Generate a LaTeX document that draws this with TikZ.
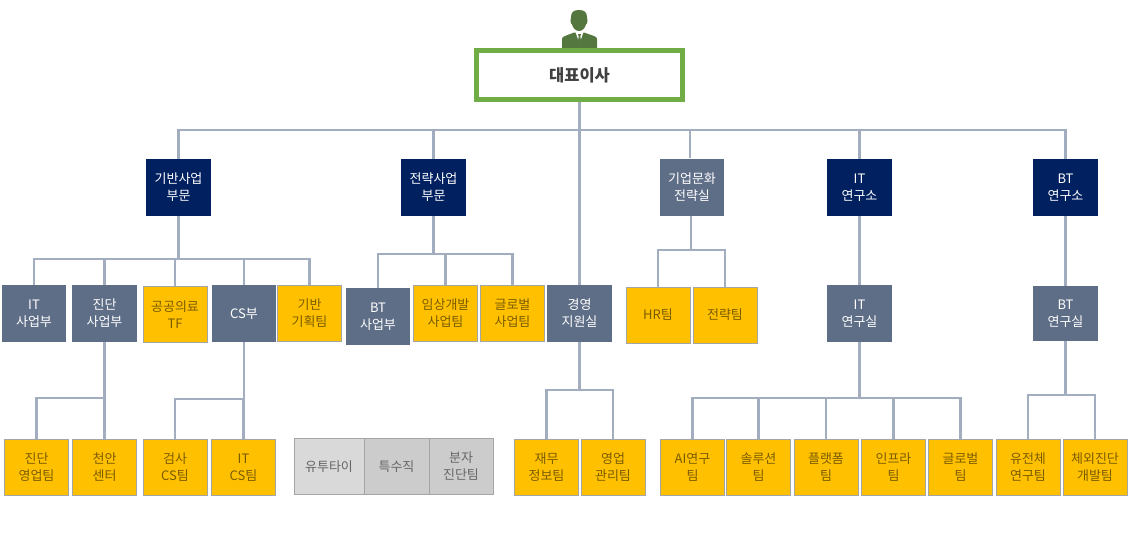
\documentclass[tikz,border=0pt]{standalone}
\usepackage{fontspec}
\setmainfont{Noto Sans CJK KR}
\usetikzlibrary{calc,positioning}
\definecolor{navyc}{HTML}{002060}
\definecolor{slatec}{HTML}{5F6E87}
\definecolor{goldc}{HTML}{FFC000}
\definecolor{edgec}{HTML}{A5A5A5}
\definecolor{linkc}{HTML}{A3ADC0}
\definecolor{ceoc}{HTML}{70AD47}
\definecolor{iconc}{HTML}{54763F}
\definecolor{goldtext}{HTML}{7A5C00}
\tikzset{
 unit/.style={inner sep=0pt,minimum width=65pt,minimum height=57pt,align=center,font=\fontsize{13}{17}\selectfont},
 navybox/.style={unit,fill=navyc,text=white},
 slatebox/.style={unit,fill=slatec,text=white},
 teambox/.style={unit,minimum width=64pt,minimum height=56pt,fill=goldc,draw=edgec,line width=1pt,text=goldtext},
 labbox/.style={unit,minimum height=56pt,draw=edgec,line width=1pt,text=black!60},
 link/.style={draw=linkc,line width=2.2pt}
}
\begin{document}
\begin{tikzpicture}[x=1pt,y=-1pt]
\useasboundingbox(0,0)rectangle(1128,539);
% top
\fill[iconc](562,48)--(562,39)..controls(562,37.5)and(563,37)..(565,36)--(574,32.5)--(584,32.5)--(594,36)..controls(596,37)and(597,37.5)..(597,39)--(597,48)--cycle;
\fill[iconc](579,10)..controls(584,10)and(587,12)..(587,17)--(587.5,21)..controls(587.5,23)and(586.5,24)..(586,24.5)..controls(585,28)and(582.5,31)..(579,31)..controls(575.5,31)and(573,28)..(572,24.5)..controls(571.5,24)and(570.5,23)..(570.5,21)--(571,17)..controls(571,12)and(574,10)..(579,10)--cycle;
\fill[white](575.5,32)--(583.5,32)--(579.5,43.5)--cycle;
\fill[iconc](578,34)--(581,34)--(580.3,36.5)--(581,41)--(579.5,43.5)--(578,41)--(578.7,36.5)--cycle;
\node[draw=ceoc,fill=white,line width=4.5pt,inner sep=0pt,minimum width=206pt,minimum height=49pt,font=\fontsize{16.5}{17}\selectfont\bfseries,text=black!75](ceo)at(579.5,75){대표이사};
% divisions
\node[navybox](base)at(178.5,187.5){기반사업\\부문};
\node[navybox](strat)at(433.5,187.5){전략사업\\부문};
\node[slatebox,minimum width=64pt](culture)at(692,187){기업문화\\전략실};
\node[navybox](itlab)at(859.5,187.5){IT\\연구소};
\node[navybox](btlab)at(1065.5,187.5){BT\\연구소};
% second row
\node[slatebox,minimum width=64pt](itbiz)at(34,313.5){IT\\사업부};
\node[slatebox](diag)at(104.5,313.5){진단\\사업부};
\node[teambox](public)at(175,314.5){공공의료\\TF};
\node[slatebox,minimum width=64pt](cs)at(244,313.5){CS부};
\node[teambox](plan)at(309.5,313.5){기반\\기획팀};
\node[slatebox,minimum width=64pt](btbiz)at(378,316.5){BT\\사업부};
\node[teambox](clinic)at(445.5,313){임상개발\\사업팀};
\node[teambox](global)at(512.5,313){글로벌\\사업팀};
\node[slatebox](mgmt)at(579.5,313.5){경영\\지원실};
\node[teambox](hr)at(658,315){HR팀};
\node[teambox](stratteam)at(725,315){전략팀};
\node[slatebox](itroom)at(859.5,313.5){IT\\연구실};
\node[slatebox,minimum height=55pt](btroom)at(1065.5,313.5){BT\\연구실};
% third row
\node[teambox](sales)at(36.5,467.5){진단\\영업팀};
\node[teambox](center)at(104.5,467.5){천안\\센터};
\node[teambox](testcs)at(175,467.5){검사\\CS팀};
\node[teambox](itcs)at(243.5,467.5){IT\\CS팀};
\node[labbox,fill=black!15,minimum width=70pt](ubi)at(329,466.5){유투타이};
\node[labbox,fill=black!20](special)at(396.5,466.5){특수직};
\node[labbox,fill=black!20,minimum width=64pt](molecule)at(461,466.5){분자\\진단팀};
\node[teambox](finance)at(546.5,467.5){재무\\정보팀};
\node[teambox](salesmgmt)at(613,467.5){영업\\관리팀};
\node[teambox](ai)at(692.5,467.5){AI연구\\팀};
\node[teambox](solution)at(758.5,467.5){솔루션\\팀};
\node[teambox](platform)at(826,467.5){플랫폼\\팀};
\node[teambox](infra)at(893.5,467.5){인프라\\팀};
\node[teambox](globalteam)at(960.5,467.5){글로벌\\팀};
\node[teambox](gene)at(1028,467.5){유전체\\연구팀};
\node[teambox](ivd)at(1095,467.5){체외진단\\개발팀};
% connectors
\coordinate(topbus)at(ceo|-0,130);
\coordinate(basebus)at(base|-0,259);
\coordinate(stratbus)at(strat|-0,254);
\coordinate(culturebus)at($(culture|-0,250)+(-1,0)$);
\coordinate(diagbus)at(diag|-0,398);
\coordinate(csbus)at(cs|-0,399);
\coordinate(mgmtbus)at(mgmt|-0,390);
\coordinate(itbus)at(itroom|-0,398);
\coordinate(btbus)at(btroom|-0,395);
\draw[link](ceo.south)--(mgmt.north);
\draw[link](topbus)-|(base.north);
\draw[link](topbus)-|(strat.north);
\draw[link](topbus)-|([xshift=-2pt]culture.north);
\draw[link](topbus)-|(itlab.north);
\draw[link](topbus)-|(btlab.north);
\draw[link](base.south)--(basebus);
\draw[link](basebus)-|(itbiz.north);
\draw[link](basebus)-|(diag.north);
\draw[link](basebus)-|(public.north);
\draw[link](basebus)-|(cs.north);
\draw[link](basebus)-|(plan.north);
\draw[link](strat.south)--(stratbus);
\draw[link](stratbus)-|(btbiz.north);
\draw[link](stratbus)-|(clinic.north);
\draw[link](stratbus)-|(global.north);
\draw[link]([xshift=-1pt]culture.south)--(culturebus);
\draw[link](culturebus)-|(hr.north);
\draw[link](culturebus)-|(stratteam.north);
\draw[link](itlab.south)--(itroom.north);
\draw[link](btlab.south)--(btroom.north);
\draw[link](diag.south)--(diagbus);
\draw[link](diagbus)-|(sales.north);
\draw[link](diagbus)-|(center.north);
\draw[link](cs.south)--(csbus);
\draw[link](csbus)-|(testcs.north);
\draw[link](csbus)-|(itcs.north);
\draw[link](mgmt.south)--(mgmtbus);
\draw[link](mgmtbus)-|(finance.north);
\draw[link](mgmtbus)-|(salesmgmt.north);
\draw[link](itroom.south)--(itbus);
\draw[link](itbus)-|(ai.north);
\draw[link](itbus)-|(solution.north);
\draw[link](itbus)-|(platform.north);
\draw[link](itbus)-|(infra.north);
\draw[link](itbus)-|(globalteam.north);
\draw[link](btroom.south)--(btbus);
\draw[link](btbus)-|(gene.north);
\draw[link](btbus)-|(ivd.north);
\end{tikzpicture}
\end{document}
